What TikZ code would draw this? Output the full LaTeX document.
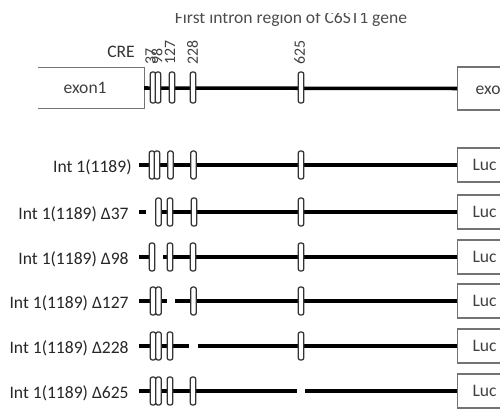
\documentclass[tikz,border=0pt]{standalone}
\usepackage{fontspec}
\setmainfont{Carlito}
\usetikzlibrary{positioning}
\tikzset{
  backbone/.style={line width=2pt},
  elem/.style={draw=black!80, fill=white, line width=0.7pt, rounded corners=1.2pt,
    minimum width=0.11cm, minimum height=0.56cm, inner sep=0pt},
  topelem/.style={elem, minimum height=0.62cm},
  genebox/.style={draw=black!55, line width=0.7pt, anchor=west, align=left,
    font=\fontsize{10}{12}\selectfont, text=black!75},
  lucbox/.style={genebox, inner xsep=0.3cm, text width=1cm, minimum height=0.68cm},
  rowlbl/.style={anchor=east, inner sep=0pt, font=\fontsize{10}{12}\selectfont, text=black!85},
  sitelbl/.style={rotate=90, anchor=west, inner sep=0pt, font=\fontsize{9}{11}\selectfont, text=black!75},
}
\begin{document}
\begin{tikzpicture}[x=0.02cm,y=-0.02cm]
  \useasboundingbox (0,0) rectangle (500,409);

  % Title (top of it cut off)
  \begin{scope}
    \clip (0,13) rectangle (500,40);
    \node[anchor=base, inner sep=0pt, font=\fontsize{10}{12}\selectfont, text=black!70] (title) at (291,23) {First intron region of C6ST1 gene};
  \end{scope}

  % Gene: exon1 - intron - exon2
  \node[genebox, draw=none, inner xsep=0.5cm, text width=1.1cm, minimum height=0.8cm] (ex1) at (38,88) {exon1};
  \draw[black!55, line width=0.7pt] (ex1.north west) -- (ex1.north east) -- (ex1.south east) -- (ex1.south west);
  \node[genebox, inner xsep=0.36cm, text width=1.2cm, minimum height=0.86cm] (ex2) at (457,88.5) {exon2};
  \draw[backbone] (ex1.east) -- (ex2.west);

  % CREs on the intron
  \node[topelem] (c37) at (153,87.5) {};
  \node[topelem] (c98) at (158,87.5) {};
  \node[topelem] (c127) at (172,87.5) {};
  \node[topelem] (c228) at (193,87.5) {};
  \node[topelem] (c625) at (301,87.5) {};

  % CRE labels
  \node[font=\fontsize{10}{12}\selectfont, text=black!80] (cre) at (121,52) {CRE};
  \node[sitelbl] (t37) at (150.5,65) {37};
  \node[sitelbl] (t98) at (157,65) {98};
  \node[sitelbl] (t127) at (170,65) {127};
  \node[sitelbl] (t228) at (192.5,65) {228};
  \node[sitelbl] (t625) at (299.5,65) {625};

  % Int 1(1189)
  \node[rowlbl] (l1) at (132,167) {Int 1(1189)};
  \node[lucbox] (luc1) at (457,165) {Luc};
  \coordinate (s1) at (139,165);
  \draw[backbone] (s1) -- (luc1.west);
  \node[elem] (r1a) at (152,165) {};
  \node[elem] (r1b) at (157,165) {};
  \node[elem] (r1c) at (170.5,165) {};
  \node[elem] (r1d) at (193.5,165) {};
  \node[elem] (r1e) at (301,165) {};

  % Int 1(1189) delta 37
  \node[rowlbl] (l2) at (129,214) {Int 1(1189) Δ37};
  \node[lucbox] (luc2) at (457,212) {Luc};
  \coordinate (s2) at (139,212);
  \coordinate (g2a) at (146,212);
  \coordinate (g2b) at (156,212);
  \draw[backbone] (s2) -- (g2a);
  \draw[backbone] (g2b) -- (luc2.west);
  \node[elem] (r2b) at (158.5,212) {};
  \node[elem] (r2c) at (170,212) {};
  \node[elem] (r2d) at (194,212) {};
  \node[elem] (r2e) at (301,212) {};

  % Int 1(1189) delta 98
  \node[rowlbl] (l3) at (129,259) {Int 1(1189) Δ98};
  \node[lucbox] (luc3) at (457,257) {Luc};
  \coordinate (s3) at (139,257);
  \coordinate (g3a) at (153,257);
  \coordinate (g3b) at (163,257);
  \draw[backbone] (s3) -- (g3a);
  \draw[backbone] (g3b) -- (luc3.west);
  \node[elem] (r3a) at (152,257) {};
  \node[elem] (r3c) at (170,257) {};
  \node[elem] (r3d) at (193,257) {};
  \node[elem] (r3e) at (301,257) {};

  % Int 1(1189) delta 127
  \node[rowlbl] (l4) at (129,303) {Int 1(1189) Δ127};
  \node[lucbox] (luc4) at (457,301) {Luc};
  \coordinate (s4) at (139,301);
  \coordinate (g4a) at (167,301);
  \coordinate (g4b) at (175,301);
  \draw[backbone] (s4) -- (g4a);
  \draw[backbone] (g4b) -- (luc4.west);
  \node[elem] (r4a) at (153,301) {};
  \node[elem] (r4b) at (158.5,301) {};
  \node[elem] (r4d) at (193.5,301) {};
  \node[elem] (r4e) at (301,301) {};

  % Int 1(1189) delta 228
  \node[rowlbl] (l5) at (129,348) {Int 1(1189) Δ228};
  \node[lucbox] (luc5) at (457,346) {Luc};
  \coordinate (s5) at (139,346);
  \coordinate (g5a) at (189,346);
  \coordinate (g5b) at (198,346);
  \draw[backbone] (s5) -- (g5a);
  \draw[backbone] (g5b) -- (luc5.west);
  \node[elem] (r5a) at (153,346) {};
  \node[elem] (r5b) at (158.5,346) {};
  \node[elem] (r5c) at (170,346) {};
  \node[elem] (r5e) at (301,346) {};

  % Int 1(1189) delta 625
  \node[rowlbl] (l6) at (129,393) {Int 1(1189) Δ625};
  \node[lucbox] (luc6) at (457,391) {Luc};
  \coordinate (s6) at (139,391);
  \coordinate (g6a) at (297,391);
  \coordinate (g6b) at (305,391);
  \draw[backbone] (s6) -- (g6a);
  \draw[backbone] (g6b) -- (luc6.west);
  \node[elem] (r6a) at (153,391) {};
  \node[elem] (r6b) at (158.5,391) {};
  \node[elem] (r6c) at (170,391) {};
  \node[elem] (r6d) at (193,391) {};
\end{tikzpicture}
\end{document}
